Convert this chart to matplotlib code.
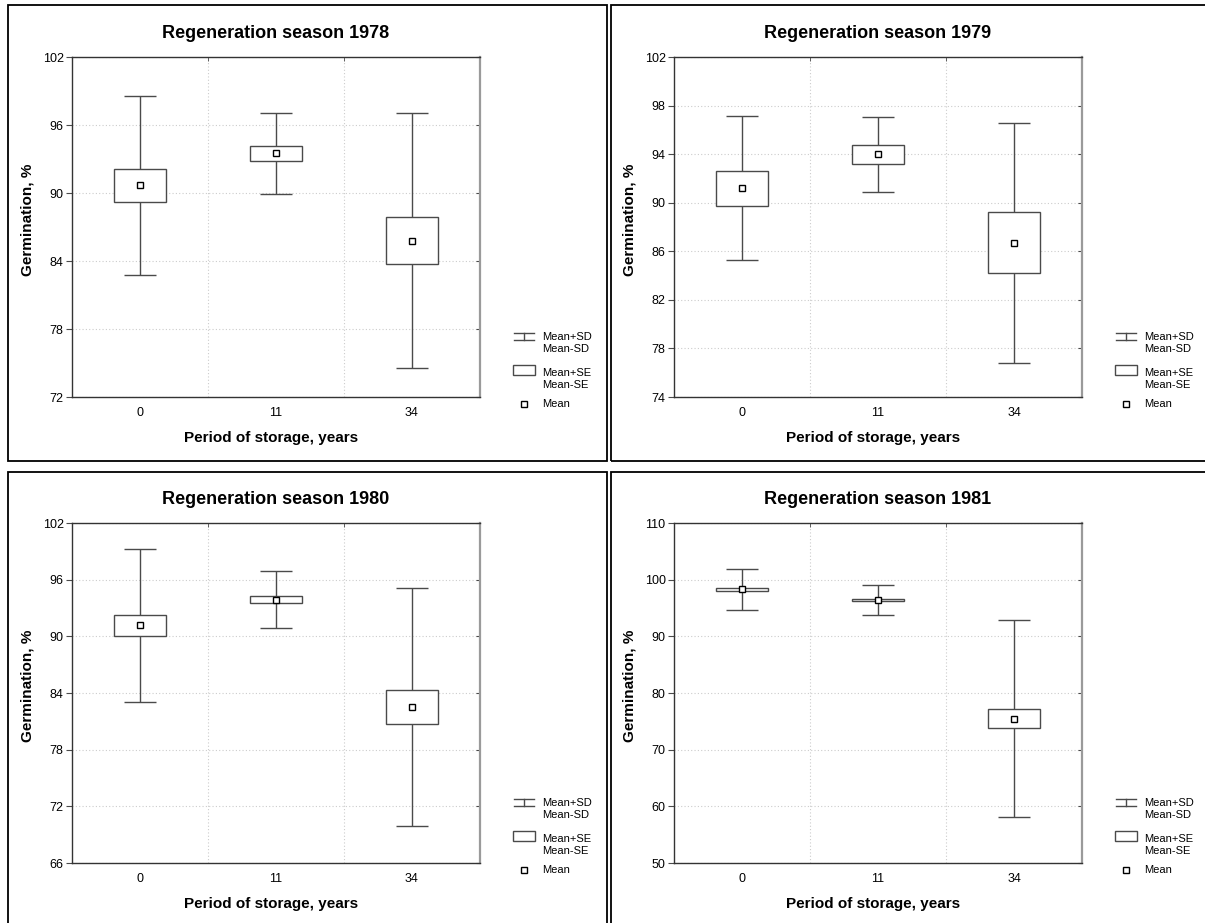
import matplotlib
matplotlib.use("Agg")
import matplotlib.pyplot as plt
from matplotlib.patches import Rectangle
from matplotlib.lines import Line2D

plt.rcParams['font.family'] = ['Liberation Sans', 'DejaVu Sans']

W, H = 1205, 923

categories = ['0', '11', '34']
years = ['1978', '1979', '1980', '1981']

mean_1978 = [90.7, 93.5, 85.8]
se_1978 = [1.45, 0.65, 2.05]
sd_1978 = [7.9, 3.55, 11.25]

mean_1979 = [91.2, 94.0, 86.7]
se_1979 = [1.43, 0.78, 2.5]
sd_1979 = [5.9, 3.1, 9.9]

mean_1980 = [91.15, 93.9, 82.5]
se_1980 = [1.1, 0.37, 1.8]
sd_1980 = [8.1, 3.0, 12.6]

mean_1981 = [98.3, 96.4, 75.5]
se_1981 = [0.3, 0.2, 1.75]
sd_1981 = [3.65, 2.7, 17.45]

yticks_1978 = [72, 78, 84, 90, 96, 102]
yticks_1979 = [74, 78, 82, 86, 90, 94, 98, 102]
yticks_1980 = [66, 72, 78, 84, 90, 96, 102]
yticks_1981 = [50, 60, 70, 80, 90, 100, 110]

legend_labels = ['Mean+SD\nMean-SD', 'Mean+SE\nMean-SE', 'Mean']

panels = [
    (years[0], mean_1978, se_1978, sd_1978, yticks_1978, 0, 0),
    (years[1], mean_1979, se_1979, sd_1979, yticks_1979, 602, 0),
    (years[2], mean_1980, se_1980, sd_1980, yticks_1980, 0, 466),
    (years[3], mean_1981, se_1981, sd_1981, yticks_1981, 602, 466),
]

fig = plt.figure(figsize=(W / 100, H / 100), dpi=100)
fig.patch.set_facecolor('white')


def fx(px):
    return px / W


def fy(py):
    return 1 - py / H


# panel frames
frames = [(8, 5, 607, 461), (611, 5, 1210, 461), (8, 472, 607, 930), (611, 472, 1210, 930)]
for (x0, y0, x1, y1) in frames:
    fig.add_artist(Rectangle((fx(x0), fy(y1)), fx(x1) - fx(x0), fy(y0) - fy(y1),
                             transform=fig.transFigure, fill=False,
                             edgecolor='black', linewidth=1.3, zorder=0))

line_col = '#4a4a4a'

for (yr, means, ses, sds, yt, dx, dy) in panels:
    left, top, right, bottom = 72 + dx, 57 + dy, 480 + dx, 397 + dy
    ax = fig.add_axes([fx(left), fy(bottom), fx(right) - fx(left), fy(top) - fy(bottom)])
    xs = list(range(len(categories)))
    ax.errorbar(xs, means, yerr=sds, fmt='none', ecolor=line_col, elinewidth=1.0,
                capsize=11.5, capthick=1.0, zorder=3)
    ax.bar(xs, [2 * s for s in ses], bottom=[m - s for m, s in zip(means, ses)],
           width=0.38, color='white', edgecolor=line_col, linewidth=1.0, zorder=4)
    ax.plot(xs, means, 's', ms=4.3, mfc='white', mec='black', mew=1.0, zorder=5)

    ax.set_xlim(-0.5, 2.5)
    ax.set_ylim(yt[0], yt[-1])
    ax.set_yticks(yt)
    ax.set_xticks(xs)
    ax.set_xticklabels(categories)
    ax.set_xticks([0.5, 1.5], minor=True)
    ax.tick_params(axis='x', which='major', length=0, pad=7, labelsize=9)
    ax.tick_params(axis='x', which='minor', length=3, direction='in', top=True, bottom=False,
                   color=line_col)
    ax.tick_params(axis='y', which='major', length=4, pad=2, labelsize=9, direction='out',
                   color=line_col, right=True)
    for t in ax.yaxis.get_major_ticks():
        t.tick2line.set_marker(0)  # inward-pointing on the right
        t.tick2line.set_markersize(3)
    ax.grid(True, axis='y', which='major', color='#cccccc', linestyle=(0, (1, 2)), linewidth=0.8)
    ax.grid(True, axis='x', which='minor', color='#cccccc', linestyle=(0, (1, 2)), linewidth=0.8)
    ax.set_axisbelow(True)

    for sp in ['left', 'bottom', 'top']:
        ax.spines[sp].set_color('#333333')
        ax.spines[sp].set_linewidth(1.0)
    ax.spines['right'].set_color('#9a9a9a')
    ax.spines['right'].set_linewidth(1.6)

    ax.set_title('Regeneration season ' + yr, fontsize=13, fontweight='bold', pad=14)
    ax.set_xlabel('Period of storage, years', fontsize=11, fontweight='bold')
    ax.set_ylabel('Germination, %', fontsize=11, fontweight='bold')
    ax.xaxis.set_label_coords(0.487, -0.1)
    ax.yaxis.set_label_coords(-0.091, 0.52)

    # manual legend
    ex = 524 + dx
    fig.add_artist(Line2D([fx(ex), fx(ex)], [fy(333 + dy), fy(340 + dy)],
                          transform=fig.transFigure, color=line_col, lw=1.0))
    for yy in (333, 340):
        fig.add_artist(Line2D([fx(514 + dx), fx(534 + dx)], [fy(yy + dy), fy(yy + dy)],
                              transform=fig.transFigure, color=line_col, lw=1.0))
    fig.add_artist(Rectangle((fx(513 + dx), fy(375 + dy)), fx(22), fy(365 + dy) - fy(375 + dy),
                             transform=fig.transFigure, facecolor='white',
                             edgecolor=line_col, lw=1.0))
    fig.add_artist(Line2D([fx(523.5 + dx)], [fy(404 + dy)], transform=fig.transFigure,
                          marker='s', ms=3.8, mfc='white', mec='black', mew=1.0, ls='none'))
    fig.text(fx(542 + dx), fy(343 + dy), legend_labels[0], fontsize=8, va='center', ha='left',
             linespacing=1.3)
    fig.text(fx(542 + dx), fy(379 + dy), legend_labels[1], fontsize=8, va='center', ha='left',
             linespacing=1.3)
    fig.text(fx(542 + dx), fy(404 + dy), legend_labels[2], fontsize=8, va='center', ha='left')

fig.savefig('out.png', dpi=100, facecolor='white')
